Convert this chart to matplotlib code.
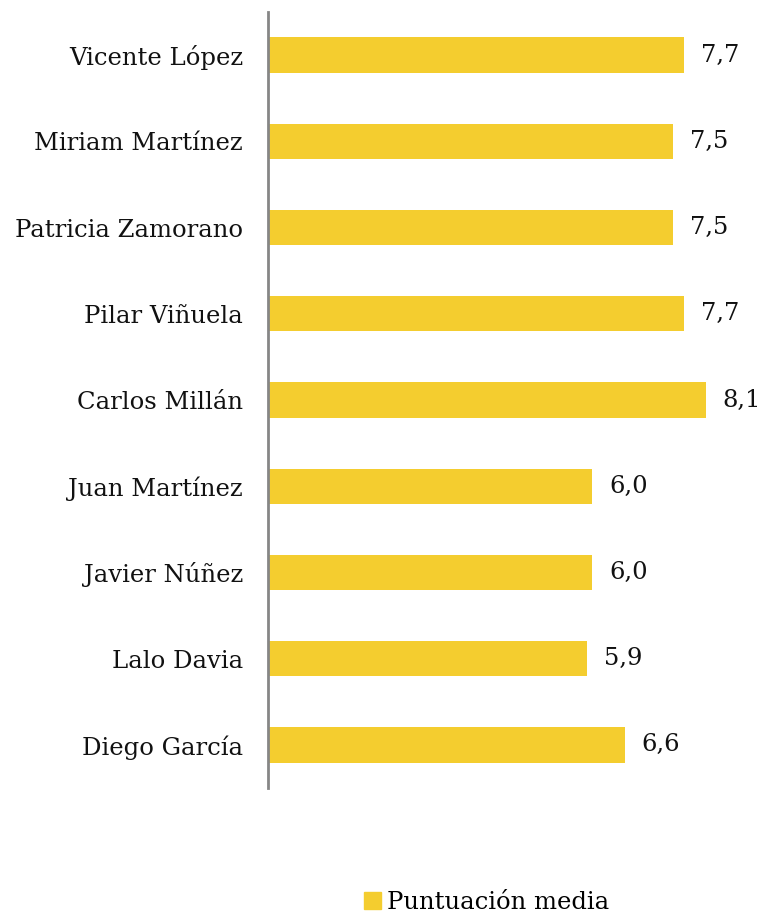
import matplotlib
matplotlib.use("Agg")
import matplotlib.pyplot as plt
from matplotlib.patches import Patch

nombres = ["Vicente López", "Miriam Martínez", "Patricia Zamorano", "Pilar Viñuela",
           "Carlos Millán", "Juan Martínez", "Javier Núñez", "Lalo Davia", "Diego García"]
puntuacion = [7.7, 7.5, 7.5, 7.7, 8.1, 6.0, 6.0, 5.9, 6.6]
etiquetas = ["7,7", "7,5", "7,5", "7,7", "8,1", "6,0", "6,0", "5,9", "6,6"]

amarillo = "#F4CD2F"
plt.rcParams["font.family"] = "DejaVu Serif"

fig = plt.figure(figsize=(7.6, 9.23), dpi=100)
ax = fig.add_axes([0.3526, 0.1463, 0.64, 0.8407])

pos = list(range(len(nombres)))
ax.barh(pos, puntuacion, height=0.41, color=amarillo)
for p, v, t in zip(pos, puntuacion, etiquetas):
    ax.annotate(t, (v, p), xytext=(12, 0), textcoords="offset points",
                va="center", ha="left", fontsize=17.5, color="#111111")

ax.set_xlim(0, 9)
ax.set_ylim(len(nombres) - 0.5, -0.5)
ax.set_yticks(pos)
ax.set_yticklabels(nombres, fontsize=17.5, color="#111111")
ax.tick_params(axis="y", length=0, pad=18)
ax.set_xticks([])
for s in ["top", "right", "bottom"]:
    ax.spines[s].set_visible(False)
ax.spines["left"].set_color("#868686")
ax.spines["left"].set_linewidth(2)

fig.legend(handles=[Patch(color=amarillo, label="Puntuación media")],
           loc="center", bbox_to_anchor=(0.64, 0.022), frameon=False,
           fontsize=17.5, handlelength=0.7, handleheight=0.7, handletextpad=0.25)

fig.savefig("out.png", dpi=100)
